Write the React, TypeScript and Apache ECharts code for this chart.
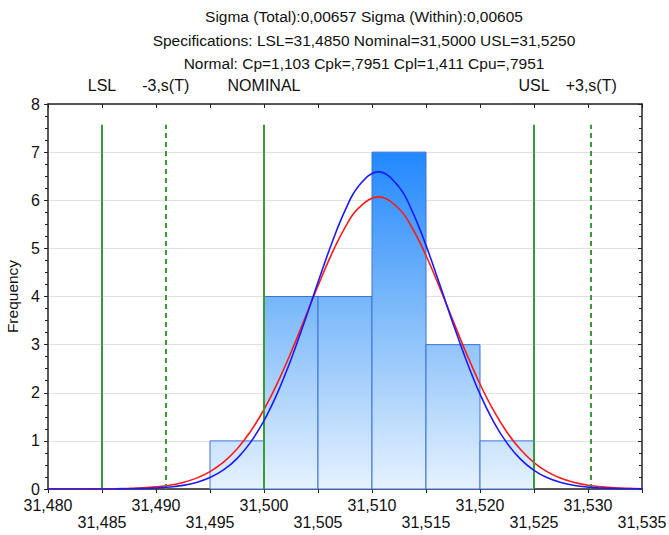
import React, { useEffect, useRef } from "react";
import * as echarts from "echarts";

const titleLines = [
  "Sigma (Total):0,00657 Sigma (Within):0,00605",
  "Specifications: LSL=31,4850 Nominal=31,5000 USL=31,5250",
  "Normal: Cp=1,103 Cpk=,7951 Cpl=1,411 Cpu=,7951",
];

const binStart = [31.495, 31.5, 31.505, 31.51, 31.515, 31.52];
const binEnd = [31.5, 31.505, 31.51, 31.515, 31.52, 31.525];
const counts = [1, 4, 4, 7, 3, 1];

const curveX = [
  31.48, 31.48125, 31.4825, 31.48375, 31.485, 31.48625, 31.4875, 31.48875, 31.49, 31.49125,
  31.4925, 31.49375, 31.495, 31.49625, 31.4975, 31.49875, 31.5, 31.50125, 31.5025, 31.50375,
  31.505, 31.50625, 31.5075, 31.50875, 31.5106, 31.5125, 31.51375, 31.515, 31.51625,
  31.5175, 31.51875, 31.52, 31.52125, 31.5225, 31.52375, 31.525, 31.52625, 31.5275, 31.52875,
  31.53, 31.53125, 31.5325, 31.53375, 31.535,
];
const redTotal = [
  0.0, 0.0, 0.001, 0.001, 0.003, 0.006, 0.013, 0.024, 0.045, 0.079,
  0.137, 0.226, 0.362, 0.559, 0.832, 1.194, 1.652, 2.206, 2.84, 3.526,
  4.222, 4.877, 5.433, 5.836, 6.07, 5.823, 5.413, 4.852, 4.195,
  3.498, 2.813, 2.182, 1.632, 1.178, 0.819, 0.55, 0.356, 0.222, 0.134,
  0.078, 0.044, 0.023, 0.012, 0.006,
];
const blueWithin = [
  0.0, 0.0, 0.0, 0.0, 0.001, 0.002, 0.005, 0.01, 0.02, 0.04,
  0.075, 0.136, 0.237, 0.396, 0.632, 0.969, 1.421, 1.998, 2.691, 3.474,
  4.297, 5.092, 5.783, 6.292, 6.59, 6.277, 5.759, 5.062, 4.264,
  3.441, 2.661, 1.972, 1.401, 0.953, 0.621, 0.388, 0.232, 0.133, 0.073,
  0.039, 0.02, 0.009, 0.004, 0.002,
];

const specNames = ["LSL", "-3,s(T)", "NOMINAL", "USL", "+3,s(T)"];
const specValues = [31.485, 31.4909, 31.5, 31.525, 31.5303];
const specDashed = [false, true, false, false, true];
const specTop = 7.57;

const xMin = 31.48;
const xMax = 31.535;
const xStep = 0.005;

const FONT = "'Liberation Sans', Arial, sans-serif";

export default function App() {
  const ref = useRef<HTMLDivElement>(null);
  useEffect(() => {
    const chart = echarts.init(ref.current!, null, { renderer: "svg" });
    const axisColor = "#222";
    const option: any = {
      animation: false,
      backgroundColor: "#fff",
      textStyle: { fontFamily: FONT },
      title: {
        text: titleLines.join("\n"),
        left: 364,
        top: 5,
        padding: 0,
        textAlign: "center",
        textStyle: { fontFamily: FONT, fontSize: 15.5, fontWeight: "normal", color: "#111", lineHeight: 23.5 },
      },
      grid: { left: 48, right: 27, top: 104, bottom: 46, containLabel: false, outerBoundsMode: "none" },
      xAxis: [
        {
          type: "value",
          min: xMin,
          max: xMax,
          interval: xStep,
          position: "bottom",
          axisLine: { show: true, onZero: false, lineStyle: { color: axisColor, width: 1.5 } },
          axisTick: { show: true, length: 4, lineStyle: { color: axisColor } },
          splitLine: { show: false },
          axisLabel: {
            fontFamily: FONT,
            fontSize: 16,
            color: "#111",
            margin: 8,
            lineHeight: 17,
            showMinLabel: true,
            showMaxLabel: true,
            hideOverlap: false,
            formatter: (v: number) => {
              const i = Math.round((v - xMin) / xStep);
              const s = v.toFixed(3).replace(".", ",");
              return i % 2 === 1 ? "\n" + s : s;
            },
          },
        },
        {
          type: "value",
          min: xMin,
          max: xMax,
          interval: xStep,
          position: "top",
          axisLine: { show: true, onZero: false, lineStyle: { color: axisColor, width: 1.5 } },
          axisTick: { show: true, inside: true, length: 4, lineStyle: { color: axisColor } },
          axisLabel: { show: false },
          splitLine: { show: false },
        },
      ],
      yAxis: [
        {
          type: "value",
          min: 0,
          max: 8,
          interval: 1,
          name: "Frequency",
          nameLocation: "middle",
          nameRotate: 90,
          nameGap: 27,
          nameTextStyle: { fontFamily: FONT, fontSize: 15.5, color: "#111" },
          axisLine: { show: true, lineStyle: { color: axisColor, width: 1.5 } },
          axisTick: { show: true, length: 4, lineStyle: { color: axisColor } },
          minorTick: { show: true, splitNumber: 4, length: 3, lineStyle: { color: axisColor } },
          splitLine: { show: true, lineStyle: { color: "#e2e2e2", width: 1 } },
          axisLabel: { fontFamily: FONT, fontSize: 16, color: "#111", margin: 8 },
        },
        {
          type: "value",
          min: 0,
          max: 8,
          interval: 1,
          position: "right",
          axisLine: { show: true, lineStyle: { color: axisColor, width: 1.5 } },
          axisTick: { show: true, inside: true, length: 4, lineStyle: { color: axisColor } },
          minorTick: { show: true, splitNumber: 4, length: 3, lineStyle: { color: axisColor } },
          axisLabel: { show: false },
          splitLine: { show: false },
        },
      ],
      series: [
        {
          type: "custom",
          name: "hist",
          xAxisIndex: 0,
          yAxisIndex: 0,
          data: binStart.map((s, i) => [s, binEnd[i], counts[i]]),
          encode: { x: [0, 1], y: 2 },
          renderItem: (params: any, api: any) => {
            const x0 = api.value(0);
            const x1 = api.value(1);
            const c = api.value(2);
            const pTop = api.coord([x0, c]);
            const pBot = api.coord([x1, 0]);
            const gTop = api.coord([x0, 7])[1];
            return {
              type: "rect",
              shape: { x: pTop[0], y: pTop[1], width: pBot[0] - pTop[0], height: pBot[1] - pTop[1] },
              style: {
                fill: new echarts.graphic.LinearGradient(0, gTop, 0, pBot[1], [
                  { offset: 0, color: "#2288ff" },
                  { offset: 0.45, color: "#7ab8fa" },
                  { offset: 1, color: "#e6f2fe" },
                ], true),
                stroke: "#3d72d9",
                lineWidth: 1,
              },
            };
          },
          z: 1,
        },
        {
          type: "line",
          name: "spec",
          data: [],
          markLine: {
            silent: true,
            symbol: ["none", "none"],
            animation: false,
            data: specValues.map((v, i) => [
              {
                coord: [v, 0],
                lineStyle: { color: "#3a9a3a", width: 2, type: specDashed[i] ? [5, 4] : "solid" },
                label: {
                  show: true,
                  position: "end",
                  distance: 31,
                  formatter: specNames[i],
                  fontFamily: FONT,
                  fontSize: 16,
                  color: "#111",
                },
              },
              { coord: [v, specTop] },
            ]),
          },
          z: 3,
        },
        {
          type: "line",
          name: "Total",
          data: curveX.map((x, i) => [x, redTotal[i]]),
          smooth: 0.4,
          showSymbol: false,
          symbol: "none",
          lineStyle: { color: "#ff1a1a", width: 1.6 },
          z: 4,
        },
        {
          type: "line",
          name: "Within",
          data: curveX.map((x, i) => [x, blueWithin[i]]),
          smooth: 0.4,
          showSymbol: false,
          symbol: "none",
          lineStyle: { color: "#1a1aff", width: 1.6 },
          z: 5,
        },
      ],
    };
    chart.setOption(option);
    return () => chart.dispose();
  }, []);
  return <div ref={ref} style={{ position: "fixed", left: 0, top: 0, width: 669, height: 535 }} />;
}
